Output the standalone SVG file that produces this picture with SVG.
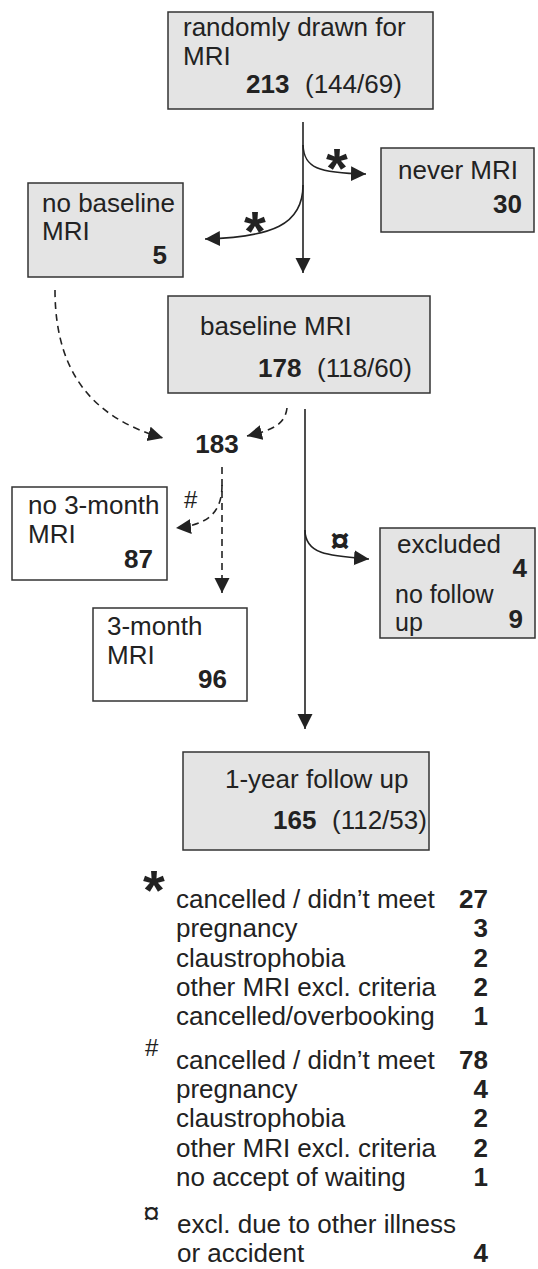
<svg xmlns="http://www.w3.org/2000/svg" width="538" height="1269" viewBox="0 0 538 1269">
<style>
.box{fill:#e4e4e4;stroke:#333;stroke-width:1.5}
.wbox{fill:#fff;stroke:#333;stroke-width:1.5}
text{font-family:"Liberation Sans",Arial,sans-serif;font-size:26px;fill:#222}
.b{font-weight:bold}
.e{text-anchor:end}
.ln{fill:none;stroke:#222;stroke-width:1.6}
.dl{fill:none;stroke:#222;stroke-width:1.6;stroke-dasharray:7,5}
.star{font-weight:bold;font-size:56px}
</style>
<defs>
<marker id="ah" markerUnits="userSpaceOnUse" markerWidth="16" markerHeight="16" refX="15" refY="7.5" orient="auto">
<path d="M0,0 L15,7.5 L0,15 z" fill="#222"/>
</marker>
</defs>
<rect width="538" height="1269" fill="#fff"/>
<g id="connectors">
<path class="ln" d="M303,122 V273" marker-end="url(#ah)"/>
<path class="ln" d="M303,145 C304,168 318,173 366,174" marker-end="url(#ah)"/>
<path class="ln" d="M303,185 C303,225 272,237 205,239" marker-end="url(#ah)"/>
<path class="dl" d="M55,290 C55,380 100,420 163,438" marker-end="url(#ah)"/>
<path class="dl" d="M287,408 C285,425 272,430 247,436" marker-end="url(#ah)"/>
<path class="ln" d="M305,409 V729" marker-end="url(#ah)"/>
<path class="ln" d="M305,530 C305,555 330,556 369,559" marker-end="url(#ah)"/>
<path class="dl" d="M222,467 V593" marker-end="url(#ah)"/>
<path class="dl" d="M222,485 C222,515 205,525 176,528" marker-end="url(#ah)"/>
<text class="star" x="326" y="187">*</text>
<text class="star" x="244" y="250">*</text>
<text x="184" y="508" style="font-size:24px">#</text>
<text class="b" x="340" y="552" style="text-anchor:middle;font-size:34px">¤</text>
</g>
<g id="n1">
<rect class="box" x="168" y="12" width="265" height="97"/>
<text x="183" y="36">randomly drawn for</text>
<text x="183" y="65">MRI</text>
<text class="b" x="246" y="93">213</text>
<text x="305" y="93">(144/69)</text>
</g>
<g id="n2">
<rect class="box" x="381" y="148" width="153" height="84"/>
<text x="398" y="179">never MRI</text>
<text class="b e" x="522" y="213">30</text>
</g>
<g id="n3">
<rect class="box" x="28" y="183" width="155" height="94"/>
<text x="42" y="212">no baseline</text>
<text x="42" y="240">MRI</text>
<text class="b e" x="167" y="264">5</text>
</g>
<g id="n4">
<rect class="box" x="168" y="296" width="262" height="97"/>
<text x="200" y="335">baseline MRI</text>
<text class="b" x="258" y="377">178</text>
<text x="317" y="377">(118/60)</text>
</g>
<g id="n5">
<text class="b" x="217" y="453" style="text-anchor:middle">183</text>
</g>
<g id="n6">
<rect class="wbox" x="12" y="487" width="155" height="93"/>
<text x="28" y="514">no 3-month</text>
<text x="28" y="543">MRI</text>
<text class="b e" x="153" y="568">87</text>
</g>
<g id="n7">
<rect class="wbox" x="93" y="608" width="154" height="93"/>
<text x="107" y="635">3-month</text>
<text x="107" y="664">MRI</text>
<text class="b e" x="227" y="688">96</text>
</g>
<g id="n8">
<rect class="box" x="380" y="528" width="155" height="110"/>
<text x="397" y="553">excluded</text>
<text class="b e" x="527" y="577">4</text>
<text x="395" y="603" style="font-size:25px">no follow</text>
<text x="395" y="631" style="font-size:25px">up</text>
<text class="b e" x="523" y="628">9</text>
</g>
<g id="n9">
<rect class="box" x="183" y="752" width="246" height="98"/>
<text x="225" y="788">1-year follow up</text>
<text class="b" x="273" y="829">165</text>
<text x="332" y="829">(112/53)</text>
</g>
<g id="legend">
<text class="star" x="143" y="909">*</text>
<text x="176" y="908">cancelled / didn’t meet</text>
<text class="b e" x="488" y="908">27</text>
<text x="176" y="937">pregnancy</text>
<text class="b e" x="488" y="937">3</text>
<text x="176" y="967">claustrophobia</text>
<text class="b e" x="488" y="967">2</text>
<text x="176" y="996">other MRI excl. criteria</text>
<text class="b e" x="488" y="996">2</text>
<text x="176" y="1025">cancelled/overbooking</text>
<text class="b e" x="488" y="1025">1</text>
<text x="145" y="1056" style="font-size:24px">#</text>
<text x="176" y="1069">cancelled / didn’t meet</text>
<text class="b e" x="488" y="1069">78</text>
<text x="176" y="1098">pregnancy</text>
<text class="b e" x="488" y="1098">4</text>
<text x="176" y="1127">claustrophobia</text>
<text class="b e" x="488" y="1127">2</text>
<text x="176" y="1157">other MRI excl. criteria</text>
<text class="b e" x="488" y="1157">2</text>
<text x="176" y="1186">no accept of waiting</text>
<text class="b e" x="488" y="1186">1</text>
<text x="143" y="1223" style="font-size:30px">¤</text>
<text x="177" y="1233">excl. due to other illness</text>
<text x="177" y="1262">or accident</text>
<text class="b e" x="488" y="1262">4</text>
</g>
</svg>
